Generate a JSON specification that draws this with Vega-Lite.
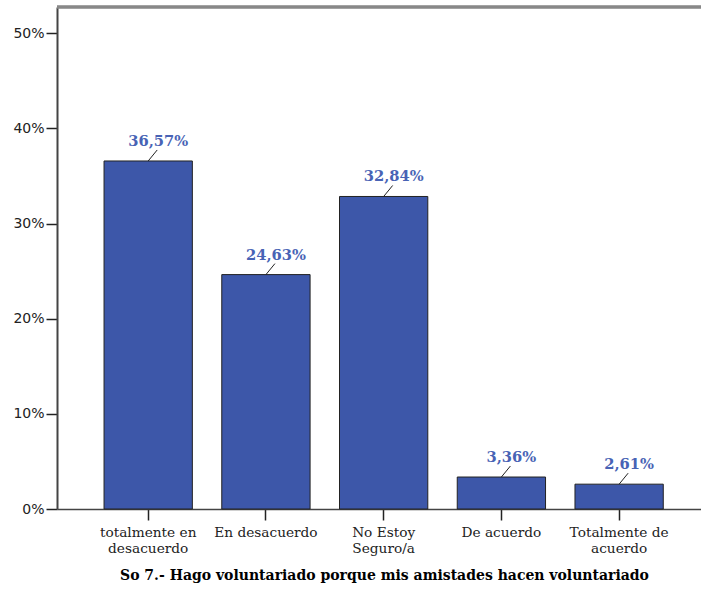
{
  "$schema": "https://vega.github.io/schema/vega-lite/v6.json",
  "width": 644,
  "height": 502,
  "autosize": {"type": "none"},
  "padding": {"left": 57, "top": 7, "right": 0, "bottom": 83},
  "background": "white",
  "config": {"view": {"stroke": null}},
  "data": {"values": [
    {"cat": "totalmente en desacuerdo", "pct": 36.57, "label": "36,57%"},
    {"cat": "En desacuerdo", "pct": 24.63, "label": "24,63%"},
    {"cat": "No Estoy Seguro/a", "pct": 32.84, "label": "32,84%"},
    {"cat": "De acuerdo", "pct": 3.36, "label": "3,36%"},
    {"cat": "Totalmente de acuerdo", "pct": 2.61, "label": "2,61%"}
  ]},
  "layer": [
    {
      "mark": {"type": "bar", "fill": "#3d57a9", "stroke": "#222", "strokeWidth": 1},
      "encoding": {
        "x": {
          "field": "cat", "type": "nominal", "sort": null,
          "scale": {"paddingInner": 0.25, "paddingOuter": 0.36, "align": 0.555},
          "axis": {
            "orient": "bottom",
            "title": "So 7.- Hago voluntariado porque mis amistades hacen voluntariado",
            "titleFont": "DejaVu Serif", "titleFontSize": 14, "titleFontWeight": "bold", "titleColor": "#000",
            "titlePadding": 14, "titleX": 327,
            "labelAngle": 0, "labelFont": "DejaVu Serif", "labelFontSize": 13.7, "labelColor": "#222",
            "labelLineHeight": 16, "labelPadding": 5,
            "labelExpr": "datum.label == 'totalmente en desacuerdo' ? ['totalmente en','desacuerdo'] : datum.label == 'No Estoy Seguro/a' ? ['No Estoy','Seguro/a'] : datum.label == 'Totalmente de acuerdo' ? ['Totalmente de','acuerdo'] : datum.label",
            "tickSize": 11, "tickColor": "#222", "tickWidth": 1.5,
            "domainColor": "#444", "domainWidth": 1.5
          }
        },
        "y": {
          "field": "pct", "type": "quantitative",
          "scale": {"domain": [0, 52.75], "nice": false},
          "axis": {
            "title": null, "values": [0, 10, 20, 30, 40, 50],
            "labelExpr": "datum.value + '%'",
            "labelFont": "DejaVu Sans", "labelFontSize": 14, "labelColor": "#222", "labelPadding": 2,
            "tickSize": 11, "tickColor": "#222", "tickWidth": 1.5,
            "domainColor": "#444", "domainWidth": 2, "grid": false
          }
        }
      }
    },
    {
      "mark": {"type": "rule", "x2Offset": 9, "y2Offset": -11, "stroke": "#222", "strokeWidth": 1},
      "encoding": {
        "x": {"field": "cat", "type": "nominal", "sort": null},
        "x2": {"field": "cat"},
        "y": {"field": "pct", "type": "quantitative"},
        "y2": {"field": "pct"}
      }
    },
    {
      "mark": {"type": "text", "dx": 10, "dy": -15, "baseline": "alphabetic", "font": "DejaVu Serif", "fontSize": 14.7, "fontWeight": "bold", "fill": "#4863b5"},
      "encoding": {
        "x": {"field": "cat", "type": "nominal", "sort": null},
        "y": {"field": "pct", "type": "quantitative"},
        "text": {"field": "label"}
      }
    },
    {
      "mark": {"type": "rule", "stroke": "#888", "strokeWidth": 2.5},
      "encoding": {"y": {"datum": 52.75, "type": "quantitative"}}
    }
  ]
}
